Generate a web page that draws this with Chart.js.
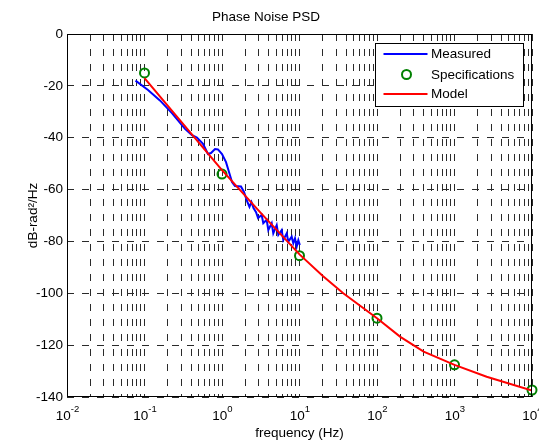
<!DOCTYPE html>
<html><head><meta charset="utf-8">
<script src="https://cdn.jsdelivr.net/npm/chart.js@4.4.0/dist/chart.umd.min.js"></script>
<style>html,body{margin:0;padding:0;background:#fff}#wrap{width:539px;height:440px}</style>
</head><body><div id="wrap"><canvas id="c" width="539" height="440"></canvas></div>
<script>
// ---- data ----
const measFreq = [0.0766,0.111,0.158,0.226,0.333,0.410,0.475,0.569,0.659,0.721,0.813,0.887,1.0,1.127,1.231,1.346,1.471,1.758,1.922,2.10,2.26,2.40,2.55,2.75,2.92,3.25,3.41,3.77,3.96,4.38,4.59,5.08,5.33,5.89,6.18,6.84,7.17,7.93,8.32,8.75,9.20,9.66,10.1];
const measDb = [-18.0,-21.6,-25.6,-30.5,-36.6,-39.0,-39.9,-42.4,-46.3,-45.9,-44.4,-44.5,-46.3,-49.4,-53.2,-57.1,-58.6,-58.8,-60.9,-64.4,-66.7,-64.8,-67.1,-68.7,-71.0,-69.8,-73.0,-71.7,-75.6,-73.0,-76.9,-73.7,-77.5,-75.6,-79.5,-76.9,-80.1,-78.2,-80.7,-78.8,-82.0,-79.5,-81.4];
const specFreq = [0.1,1,10,100,1000,10000];
const specDb = [-15,-54,-85.5,-109.6,-127.6,-137.3];
const modelFreq = [0.1,0.316,1,3.16,10,20,36.7,100,200,400,1000,2600,10000];
const modelDb = [-17,-34.8,-52.5,-69,-85,-93.3,-100,-109.6,-116.8,-122.5,-127.6,-132.2,-137.5];
const xDecades = [0.01,0.1,1,10,100,1000,10000];
const xDecadeExp = ['-2','-1','0','1','2','3','4'];
const xMinorMult = [2,3,4,5,6,7,8,9];
const yMin = -140, yMax = 0, yStep = 20;
const labels = {title:'Phase Noise PSD', x:'frequency (Hz)', y:'dB-rad\u00B2/Hz', series:['Measured','Specifications','Model']};

const FONT = '"Liberation Sans", Arial, Helvetica, sans-serif';
const FS = 13.5;
const xGridValues = [];
xDecades.forEach((d,i)=>{ xGridValues.push(d); if(i<xDecades.length-1) xMinorMult.forEach(m=>xGridValues.push(+(d*m).toPrecision(3))); });

const pts = (fx, fy) => fx.map((f,i)=>({x:f, y:fy[i]}));

const decor = {
  id:'decor',
  afterDraw(chart){
    const ctx = chart.ctx, a = chart.chartArea, xs = chart.scales.x;
    ctx.save();
    ctx.setLineDash([]);
    ctx.strokeStyle = '#000'; ctx.lineWidth = 1;
    const L = Math.round(a.left)+0.5, T = Math.round(a.top)+0.5, R = Math.round(a.right)-0.5, B = Math.round(a.bottom)-0.5;
    ctx.strokeRect(L, T, R-L, B-T);
    // x tick labels 10^n
    ctx.fillStyle = '#000';
    ctx.textBaseline = 'alphabetic';
    ctx.textAlign = 'left';
    xDecades.forEach((v,i)=>{
      const px = xs.getPixelForValue(v);
      ctx.font = FS + 'px ' + FONT;
      const wb = ctx.measureText('10').width;
      ctx.font = '9.5px ' + FONT;
      const we = ctx.measureText(xDecadeExp[i]).width;
      const start = px - (wb+we)/2 + 0.5;
      ctx.font = FS + 'px ' + FONT;
      ctx.fillText('10', start, 420);
      ctx.font = '9.5px ' + FONT;
      ctx.fillText(xDecadeExp[i], start+wb, 412);
    });
    // legend
    const ds = chart.data.datasets;
    const bx = Math.round(a.right) - 156.5, by = Math.round(a.top) + 9.5, bw = 148, bh = 63;
    ctx.fillStyle = '#fff';
    ctx.fillRect(bx, by, bw, bh);
    ctx.strokeStyle = '#000'; ctx.lineWidth = 1;
    ctx.strokeRect(bx, by, bw, bh);
    const rows = [by+10.5, by+31, by+50.5];
    ctx.font = FS + 'px ' + FONT;
    ctx.textBaseline = 'middle';
    ctx.textAlign = 'left';
    rows.forEach((yy,i)=>{
      const d = ds[i];
      if(i===1){
        ctx.beginPath(); ctx.arc(bx+31, yy, d.pointRadius, 0, Math.PI*2);
        ctx.strokeStyle = d.borderColor; ctx.lineWidth = d.pointBorderWidth; ctx.stroke();
      } else {
        ctx.beginPath(); ctx.moveTo(bx+8, yy); ctx.lineTo(bx+52, yy);
        ctx.strokeStyle = d.borderColor; ctx.lineWidth = d.borderWidth; ctx.stroke();
      }
      ctx.fillStyle = '#000';
      ctx.fillText(labels.series[i], bx+55.5, yy+0.5);
    });
    ctx.restore();
  }
};

new Chart(document.getElementById('c'), {
  type:'line',
  data:{datasets:[
    {label:labels.series[0], data:pts(measFreq,measDb), borderColor:'#0000ff', borderWidth:2, pointRadius:0, fill:false, tension:0, order:3},
    {label:labels.series[1], data:pts(specFreq,specDb), showLine:false, borderColor:'#008000', backgroundColor:'rgba(0,0,0,0)', pointRadius:4.5, pointBorderWidth:2, pointHoverRadius:4.5, pointBorderColor:'#008000', pointBackgroundColor:'rgba(0,0,0,0)', clip:false, order:2},
    {label:labels.series[2], data:pts(modelFreq,modelDb), borderColor:'#ff0000', borderWidth:2, pointRadius:0, fill:false, tension:0, order:1}
  ]},
  options:{
    responsive:false, animation:false, devicePixelRatio:1,
    layout:{padding:{left:0,right:7,top:0,bottom:0}},
    plugins:{
      legend:{display:false}, tooltip:{enabled:false},
      title:{display:true, text:labels.title, color:'#000', font:{family:FONT, size:FS, weight:'normal', lineHeight:1}, padding:{top:11,bottom:9.5}}
    },
    scales:{
      x:{type:'logarithmic', min:xDecades[0], max:xDecades[xDecades.length-1],
        afterBuildTicks:s=>{ s.ticks = xGridValues.map(v=>({value:v, major:xDecades.includes(v)})); },
        afterFit:s=>{ s.height = 43; },
        ticks:{display:false, autoSkip:false},
        grid:{color:'#2a2a2a', lineWidth:1, drawTicks:false},
        border:{display:false, dash:[7,8]},
        title:{display:true, text:labels.x, color:'#000', font:{family:FONT,size:FS}, padding:{top:0,bottom:-1}}
      },
      y:{min:yMin, max:yMax,
        afterFit:s=>{ s.width = 67; },
        ticks:{stepSize:yStep, padding:4, color:'#000', font:{family:FONT,size:FS}},
        grid:{color:'#2a2a2a', lineWidth:1, drawTicks:false},
        border:{display:false, dash:[7,8]},
        title:{display:true, text:labels.y, color:'#000', font:{family:FONT,size:FS}, padding:{top:25,bottom:0}}
      }
    }
  },
  plugins:[decor]
});
</script></body></html>
